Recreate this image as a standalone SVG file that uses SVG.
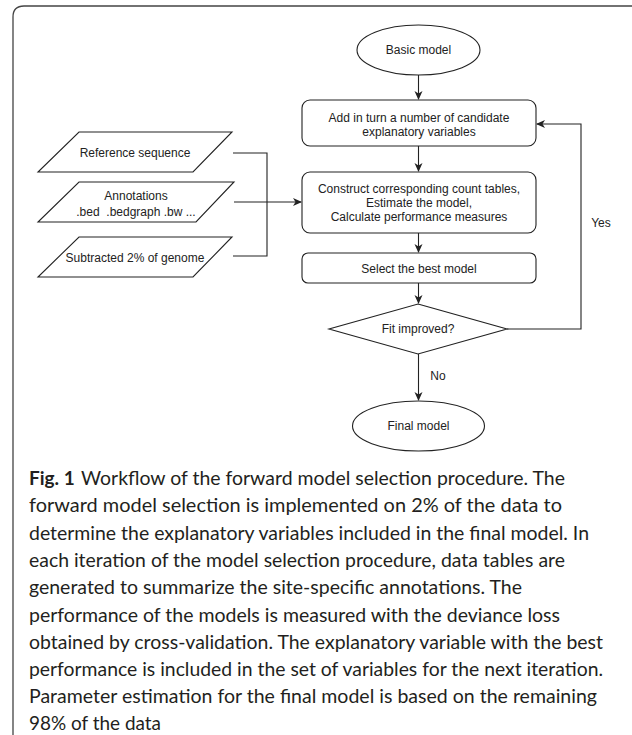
<svg xmlns="http://www.w3.org/2000/svg" width="632" height="735" viewBox="0 0 632 735">
<defs>
<marker id="arr" markerWidth="10" markerHeight="10" refX="8" refY="4" orient="auto" markerUnits="userSpaceOnUse">
<path d="M0,0 L9,4 L0,8 L2.5,4 z" fill="#222"/>
</marker>
<style>
.shape{fill:#fff;stroke:#222;stroke-width:1.1}
.lbl{font-family:"Liberation Sans",Arial,sans-serif;font-size:12px;fill:#222;text-anchor:middle}
.edge{fill:none;stroke:#222;stroke-width:1.1}
.cap{font-family:Lato,"Open Sans",sans-serif;font-size:19px;fill:#231f20}
.capb{font-family:Lato,"Open Sans",sans-serif;font-size:19px;font-weight:bold;fill:#231f20}
</style>
</defs>
<rect width="632" height="735" fill="#fff"/>
<path d="M13,735 L13,17 Q13,6 24,6 L632,6" fill="none" stroke="#444" stroke-width="1.3"/>

<g id="basic">
<ellipse class="shape" cx="418.5" cy="50" rx="61.5" ry="25"/>
<text class="lbl" x="418.5" y="54">Basic model</text>
</g>
<g id="add">
<rect class="shape" x="302" y="100" width="234" height="46" rx="8"/>
<text class="lbl" x="419" y="122">Add in turn a number of candidate</text>
<text class="lbl" x="419" y="136">explanatory variables</text>
</g>
<g id="refseq">
<polygon class="shape" points="79,132 232,132 193,172 38,172"/>
<text class="lbl" x="135" y="157">Reference sequence</text>
</g>
<g id="annot">
<polygon class="shape" points="79,182 234,182 196,222 38,222"/>
<text class="lbl" x="136" y="200">Annotations</text>
<text class="lbl" x="136" y="216">.bed&#160; .bedgraph .bw ...</text>
</g>
<g id="subtr">
<polygon class="shape" points="79,237 232,237 193,277 38,277"/>
<text class="lbl" x="135" y="262">Subtracted 2% of genome</text>
</g>
<g id="construct">
<rect class="shape" x="302" y="172" width="234" height="61" rx="8"/>
<text class="lbl" x="419" y="193">Construct corresponding count tables,</text>
<text class="lbl" x="419" y="207">Estimate the model,</text>
<text class="lbl" x="419" y="221">Calculate performance measures</text>
</g>
<g id="select">
<rect class="shape" x="302" y="253" width="234" height="30" rx="6"/>
<text class="lbl" x="419" y="273">Select the best model</text>
</g>
<g id="fit">
<polygon class="shape" points="418,304 507,329 418,354 329,329"/>
<text class="lbl" x="418" y="333">Fit improved?</text>
</g>
<g id="final">
<ellipse class="shape" cx="418.5" cy="426" rx="66" ry="25"/>
<text class="lbl" x="418.5" y="430">Final model</text>
</g>

<g id="connectors">
<line class="edge" x1="418.5" y1="75" x2="418.5" y2="99" marker-end="url(#arr)"/>
<line class="edge" x1="418.5" y1="146" x2="418.5" y2="171" marker-end="url(#arr)"/>
<line class="edge" x1="418.5" y1="233" x2="418.5" y2="252" marker-end="url(#arr)"/>
<line class="edge" x1="418.5" y1="283" x2="418.5" y2="303" marker-end="url(#arr)"/>
<line class="edge" x1="418.5" y1="354" x2="418.5" y2="400" marker-end="url(#arr)"/>
<polyline class="edge" points="507,329 581,329 581,124 537,124" marker-end="url(#arr)"/>
<polyline class="edge" points="233,153 267,153 267,256 233,256"/>
<line class="edge" x1="234" y1="202" x2="301" y2="202" marker-end="url(#arr)"/>
<text class="lbl" x="438" y="380">No</text>
<text class="lbl" x="601" y="227">Yes</text>
</g>

<g id="caption">
<text class="capb" x="29" y="485">Fig. 1</text>
<text class="cap" x="81" y="485" textLength="484" lengthAdjust="spacingAndGlyphs">Workflow of the forward model selection procedure. The</text>
<text class="cap" x="29" y="512.3" textLength="533" lengthAdjust="spacingAndGlyphs">forward model selection is implemented on 2% of the data to</text>
<text class="cap" x="29" y="539.6" textLength="560" lengthAdjust="spacingAndGlyphs">determine the explanatory variables included in the final model. In</text>
<text class="cap" x="29" y="566.9" textLength="536" lengthAdjust="spacingAndGlyphs">each iteration of the model selection procedure, data tables are</text>
<text class="cap" x="29" y="594.2" textLength="493" lengthAdjust="spacingAndGlyphs">generated to summarize the site-specific annotations. The</text>
<text class="cap" x="29" y="621.5" textLength="531" lengthAdjust="spacingAndGlyphs">performance of the models is measured with the deviance loss</text>
<text class="cap" x="29" y="648.8" textLength="574" lengthAdjust="spacingAndGlyphs">obtained by cross-validation. The explanatory variable with the best</text>
<text class="cap" x="29" y="676.1" textLength="574" lengthAdjust="spacingAndGlyphs">performance is included in the set of variables for the next iteration.</text>
<text class="cap" x="29" y="703.4" textLength="568" lengthAdjust="spacingAndGlyphs">Parameter estimation for the final model is based on the remaining</text>
<text class="cap" x="29" y="730" textLength="132" lengthAdjust="spacingAndGlyphs">98% of the data</text>
</g>
</svg>
